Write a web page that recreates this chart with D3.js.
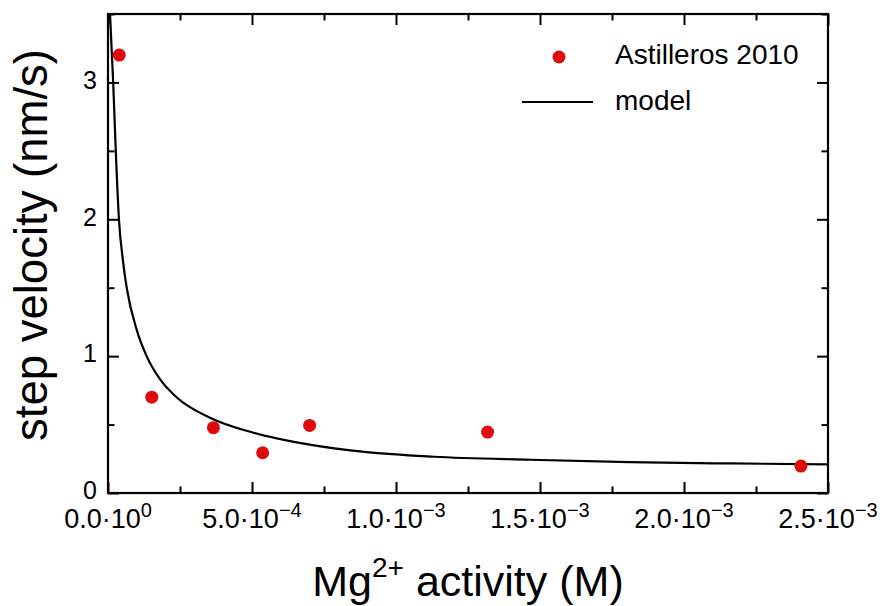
<!DOCTYPE html>
<html>
<head>
<meta charset="utf-8">
<script src="https://cdn.jsdelivr.net/npm/d3@7/dist/d3.min.js"></script>
<style>
  html, body { margin: 0; padding: 0; background: #fff; }
  svg { display: block; font-family: "Liberation Sans", Arial, Helvetica, sans-serif; }
</style>
</head>
<body>
<svg id="chart" width="883" height="606"></svg>
<script>
// Measured step velocities (Astilleros 2010)
const dataMg = [0.000039, 0.000152, 0.000366, 0.000537, 0.000700, 0.001318, 0.002406];
const dataVel = [3.20, 0.70, 0.477, 0.294, 0.494, 0.445, 0.197];

// Model curve, sampled along its trace
const modelMg = [0.000007, 0.000018, 0.000027, 0.000038, 0.000053, 0.000065, 0.000100,
                 0.000134, 0.000181, 0.000238, 0.000354, 0.000505, 0.000695, 0.000898,
                 0.001130, 0.001465, 0.001810, 0.002160, 0.002500];
const modelVel = [3.50, 3.00, 2.50, 2.00, 1.68, 1.50, 1.19,
                  1.00, 0.83, 0.70, 0.55, 0.44, 0.355, 0.298,
                  0.265, 0.243, 0.226, 0.216, 0.209];

// Axis ticks
const xMajor = [0, 0.0005, 0.001, 0.0015, 0.002, 0.0025];
const xMinor = [0.00025, 0.00075, 0.00125, 0.00175, 0.00225];
const xTickMantissa = ["0.0", "5.0", "1.0", "1.5", "2.0", "2.5"];
const xTickExponent = ["0", "\u22124", "\u22123", "\u22123", "\u22123", "\u22123"];
const yMajor = [0, 1, 2, 3];
const yMinor = [0.5, 1.5, 2.5, 3.5];
const yTickLabels = ["0", "1", "2", "3"];

const seriesNames = ["Astilleros 2010", "model"];

const svg = d3.select("#chart");
const m = { left: 108, right: 828, top: 14, bottom: 493 };

const x = d3.scaleLinear().domain([0, 0.0025]).range([m.left, m.right]);
const y = d3.scaleLinear().domain([0, 3.5]).range([m.bottom, m.top]);

const red = "#de0b0b";

svg.append("defs").append("clipPath").attr("id", "plotclip")
  .append("rect")
  .attr("x", m.left).attr("y", m.top)
  .attr("width", m.right - m.left).attr("height", m.bottom - m.top);

// Model line
const line = d3.line()
  .x(i => x(modelMg[i]))
  .y(i => y(modelVel[i]))
  .curve(d3.curveMonotoneX);

svg.append("path")
  .attr("clip-path", "url(#plotclip)")
  .attr("d", line(d3.range(modelMg.length)))
  .attr("fill", "none")
  .attr("stroke", "#000")
  .attr("stroke-width", 2.2);

// Data points
svg.append("g").selectAll("circle")
  .data(d3.range(dataMg.length))
  .join("circle")
  .attr("cx", i => x(dataMg[i]))
  .attr("cy", i => y(dataVel[i]))
  .attr("r", 6.5)
  .attr("fill", red);

// Axes with inward ticks on all four sides
function styleAxis(g) {
  g.select(".domain").remove();
  g.selectAll("line").attr("stroke", "#000").attr("stroke-width", 2);
  g.selectAll("text").remove();
}
const majorLen = 11, minorLen = 6.5;

svg.append("g").attr("transform", `translate(0,${m.bottom})`)
  .call(d3.axisBottom(x).tickValues(xMajor).tickSize(-majorLen)).call(styleAxis);
svg.append("g").attr("transform", `translate(0,${m.bottom})`)
  .call(d3.axisBottom(x).tickValues(xMinor).tickSize(-minorLen)).call(styleAxis);
svg.append("g").attr("transform", `translate(0,${m.top})`)
  .call(d3.axisTop(x).tickValues(xMajor).tickSize(-majorLen)).call(styleAxis);
svg.append("g").attr("transform", `translate(0,${m.top})`)
  .call(d3.axisTop(x).tickValues(xMinor).tickSize(-minorLen)).call(styleAxis);
svg.append("g").attr("transform", `translate(${m.left},0)`)
  .call(d3.axisLeft(y).tickValues(yMajor).tickSize(-majorLen)).call(styleAxis);
svg.append("g").attr("transform", `translate(${m.left},0)`)
  .call(d3.axisLeft(y).tickValues(yMinor).tickSize(-minorLen)).call(styleAxis);
svg.append("g").attr("transform", `translate(${m.right},0)`)
  .call(d3.axisRight(y).tickValues(yMajor).tickSize(-majorLen)).call(styleAxis);
svg.append("g").attr("transform", `translate(${m.right},0)`)
  .call(d3.axisRight(y).tickValues(yMinor).tickSize(-minorLen)).call(styleAxis);

// Frame
svg.append("rect")
  .attr("x", m.left).attr("y", m.top)
  .attr("width", m.right - m.left).attr("height", m.bottom - m.top)
  .attr("fill", "none").attr("stroke", "#000").attr("stroke-width", 2.2);

// X tick labels with scientific notation
const xl = svg.append("g").selectAll("text")
  .data(xMajor)
  .join("text")
  .attr("x", d => x(d))
  .attr("y", m.bottom + 35)
  .attr("text-anchor", "middle")
  .attr("font-size", 27)
  .attr("fill", "#000");
xl.append("tspan").text((d, i) => xTickMantissa[i] + "\u00b710");
xl.append("tspan").attr("dy", -11).attr("font-size", 20).text((d, i) => xTickExponent[i]);

// Y tick labels
svg.append("g").selectAll("text")
  .data(yMajor)
  .join("text")
  .attr("x", m.left - 11)
  .attr("y", d => y(d) - 2.5)
  .attr("dy", "0.35em")
  .attr("text-anchor", "end")
  .attr("font-size", 25)
  .attr("fill", "#000")
  .text((d, i) => yTickLabels[i]);

// Axis titles
const xt = svg.append("text")
  .attr("x", (m.left + m.right) / 2)
  .attr("y", 596)
  .attr("text-anchor", "middle")
  .attr("font-size", 43)
  .attr("fill", "#000");
xt.append("tspan").text("Mg");
xt.append("tspan").attr("dy", -19).attr("font-size", 28).text("2+");
xt.append("tspan").attr("dy", 19).text(" activity (M)");

svg.append("text")
  .attr("transform", `translate(47,245) rotate(-90)`)
  .attr("text-anchor", "middle")
  .attr("font-size", 45.5)
  .attr("fill", "#000")
  .text("step velocity (nm/s)");

// Legend
const lg = svg.append("g");
lg.append("circle").attr("cx", 559).attr("cy", 57).attr("r", 6.5).attr("fill", red);
lg.append("line").attr("x1", 522).attr("x2", 593).attr("y1", 102).attr("y2", 102)
  .attr("stroke", "#000").attr("stroke-width", 2.2);
lg.selectAll("text.lbl")
  .data(seriesNames)
  .join("text")
  .attr("class", "lbl")
  .attr("x", 615)
  .attr("y", (d, i) => 64 + i * 46)
  .attr("font-size", 28)
  .attr("fill", "#000")
  .text(d => d);
</script>
</body>
</html>
